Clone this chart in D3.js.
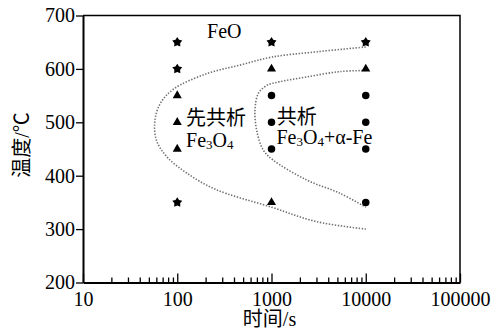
<!DOCTYPE html>
<html>
<head>
<meta charset="utf-8">
<script src="https://cdn.jsdelivr.net/npm/d3@7"></script>
<style>
  body { margin: 0; background: #fff; }
  svg text { font-family: "Liberation Serif", "Noto Sans CJK SC", serif; fill: #000; }
</style>
</head>
<body>
<svg id="chart" width="496" height="331"></svg>
<script>
// time (s) / temperature (°C) observations
var starPts = [[100, 650], [100, 600], [1000, 650], [10000, 650], [100, 350]];
var trianglePts = [[100, 550], [100, 500], [100, 450], [1000, 600], [10000, 600], [1000, 350]];
var circlePts = [[1000, 550], [1000, 500], [1000, 450], [10000, 550], [10000, 500], [10000, 450], [10000, 350]];

// dotted boundary curves
var outerCurve = [[10000, 641], [3000, 632], [1000, 622], [460, 607], [205, 591], [91, 562], [66, 535],
                  [58, 504], [60, 467], [77, 436], [126, 405], [250, 375], [1000, 341], [3000, 314], [10000, 300]];
var innerCurve = [[10000, 597], [5330, 595], [2360, 585], [1230, 576], [890, 569], [725, 554], [668, 523],
                  [696, 485], [818, 448], [1047, 429], [2360, 392], [5330, 367], [10000, 341]];

var xMajor = [10, 100, 1000, 10000, 100000];
var yTicks = [200, 300, 400, 500, 600, 700];

var svg = d3.select("#chart");
var x = d3.scaleLog().domain([10, 100000]).range([83, 460]);
var y = d3.scaleLinear().domain([200, 700]).range([282.5, 15.5]);

// minor ticks 2..9 each decade
var xMinor = [];
xMajor.slice(0, -1).forEach(function(d) {
    for (var k = 2; k <= 9; k++) xMinor.push(d * k);
});

// chunky five point star (d3's own is too thin)
var fatStar = {
    draw: function(ctx, size) {
        var r = Math.sqrt(size / 1.6), ri = r * 0.58;
        for (var i = 0; i < 10; i++) {
            var a = -Math.PI / 2 + i * Math.PI / 5, rr = i % 2 ? ri : r;
            if (i === 0) ctx.moveTo(rr * Math.cos(a), rr * Math.sin(a));
            else ctx.lineTo(rr * Math.cos(a), rr * Math.sin(a));
        }
        ctx.closePath();
    }
};

// frame (top and right)
svg.append("path")
    .attr("d", "M" + x(10) + "," + y(700) + "H" + x(100000) + "V" + y(200))
    .attr("fill", "none").attr("stroke", "#000").attr("stroke-width", 1.5);

// bottom axis, ticks pointing inward
svg.append("g").attr("transform", "translate(0," + y(200) + ")")
    .call(d3.axisBottom(x).tickValues(xMajor).tickFormat(d3.format("d"))
        .tickSizeInner(-9).tickSizeOuter(0).tickPadding(9));
svg.append("g").attr("transform", "translate(0," + y(200) + ")")
    .call(d3.axisBottom(x).tickValues(xMinor).tickFormat("").tickSizeInner(-5).tickSizeOuter(0))
    .call(function(g) { g.select(".domain").remove(); });

svg.append("g").attr("transform", "translate(" + x(10) + ",0)")
    .call(d3.axisLeft(y).tickValues(yTicks).tickSizeInner(7).tickSizeOuter(0).tickPadding(1));

svg.selectAll(".domain").attr("stroke-width", 2);
svg.selectAll(".tick line").attr("stroke-width", 1.3);
svg.selectAll(".tick text").attr("font-size", 20).style("font-family", "Liberation Serif");

svg.append("text").attr("x", (x(10) + x(100000)) / 2 - 2).attr("y", 326)
    .attr("text-anchor", "middle").attr("font-size", 20).text("时间/s");
svg.append("text").attr("transform", "translate(22," + (y(450) - 4) + ") rotate(-90)")
    .attr("text-anchor", "middle").attr("dominant-baseline", "central").attr("font-size", 20).text("温度/℃");

// dotted curves
var line = d3.line()
    .x(function(d) { return x(d[0]); })
    .y(function(d) { return y(d[1]); })
    .curve(d3.curveCatmullRom.alpha(0.5));
svg.selectAll("path.boundary").data([outerCurve, innerCurve]).enter()
    .append("path").attr("class", "boundary")
    .attr("d", line)
    .attr("fill", "none").attr("stroke", "#707070").attr("stroke-width", 1.6)
    .attr("stroke-dasharray", "1.4 1.6");

// markers
function markers(pts, type, size) {
    svg.append("g").selectAll("path").data(pts).enter()
        .append("path")
        .attr("transform", function(d) { return "translate(" + x(d[0]) + "," + y(d[1]) + ")"; })
        .attr("d", d3.symbol().type(type).size(size))
        .attr("fill", "#000");
}
markers(starPts, fatStar, 44);
markers(trianglePts, d3.symbolTriangle, 36);
markers(circlePts, d3.symbolCircle, 44);

// phase annotations
function label(t, T, parts) {
    var txt = svg.append("text").attr("x", x(t)).attr("y", y(T)).attr("font-size", 20);
    parts.forEach(function(p) {
        var s = txt.append("tspan").text(p[0]);
        if (p[1]) s.attr("font-size", 13).attr("dy", 2);
        else if (p[2]) s.attr("dy", -2);
    });
}
label(207, 657, [["FeO"]]);
label(124, 495, [["先共析"]]);
label(124, 454, [["Fe"], ["3", 1], ["O", 0, 1], ["4", 1], ["", 0, 1]]);
label(1135, 497, [["共析"]]);
label(1130, 459, [["Fe"], ["3", 1], ["O", 0, 1], ["4", 1], ["+α-Fe", 0, 1]]);
</script>
</body>
</html>
